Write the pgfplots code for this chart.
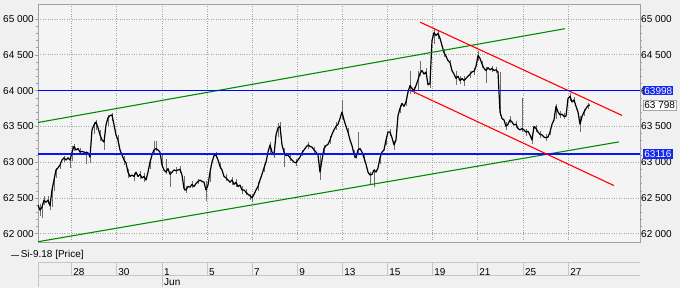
\documentclass[border=0pt]{standalone}
\usepackage{pgfplots}
\pgfplotsset{compat=1.18}
\usepackage{fontspec}
\setmainfont{Liberation Sans}
\definecolor{bg}{RGB}{240,240,240}
\definecolor{plotbg}{RGB}{244,244,244}
\definecolor{lblue}{RGB}{0,0,255}
\definecolor{lblueb}{RGB}{10,20,250}
\definecolor{lgreen}{RGB}{0,140,0}
\definecolor{lred}{RGB}{255,0,0}
\definecolor{boxblue}{RGB}{20,40,240}
\definecolor{frame}{RGB}{160,160,160}
\definecolor{wick}{RGB}{110,110,110}
\definecolor{gridc}{RGB}{165,165,165}

\pgfplotstableread{
x c
38 62400
40 62330
42 62370
44 62470
46 62440
48 62470
50 62390
52 62610
54 62750
56 62890
58 62920
60 62960
62 63030
64 63060
66 63030
68 63060
70 63030
72 63140
74 63220
76 63170
78 63190
80 63140
82 63150
84 63140
86 63130
88 63130
90 63070
92 63450
94 63520
96 63560
98 63480
100 63380
102 63310
104 63280
106 63520
108 63620
110 63650
112 63660
114 63520
116 63380
118 63310
120 63170
122 63100
124 63030
126 62990
128 62860
130 62800
132 62820
134 62800
136 62860
138 62800
140 62830
142 62780
144 62800
146 62750
148 62860
150 63000
152 63100
154 63170
156 63190
158 63170
160 63140
162 62960
164 62890
166 62860
168 62910
170 62830
172 62860
174 62890
176 62880
178 62890
180 62900
182 62820
184 62630
186 62610
188 62660
190 62650
192 62690
194 62660
196 62700
198 62730
200 62750
202 62730
204 62720
206 62610
208 62680
210 62860
212 63000
214 63090
216 63100
218 63030
220 62940
222 62890
224 62800
226 62780
228 62750
230 62720
232 62750
234 62690
236 62720
238 62660
240 62680
242 62610
244 62610
246 62580
248 62550
250 62530
252 62500
254 62550
256 62610
258 62660
260 62750
262 62830
264 62920
266 63000
268 63140
270 63240
272 63140
274 63100
276 63380
278 63480
280 63500
282 63240
284 63140
286 63090
288 63100
290 63060
292 63030
294 63000
296 62990
298 63030
300 63070
302 63130
304 63170
306 63210
308 63240
310 63220
312 63210
314 63170
316 63140
318 63100
320 62860
322 63030
324 63190
326 63230
328 63250
330 63310
332 63390
334 63450
336 63500
338 63530
340 63610
342 63700
344 63590
346 63500
348 63420
350 63310
352 63230
354 63110
356 63060
358 63170
360 63190
362 63140
364 63060
366 62970
368 62860
370 62820
372 62830
374 62890
376 62860
378 62920
380 63060
382 63140
384 63170
386 63310
388 63420
390 63420
392 63340
394 63240
396 63310
398 63650
400 63750
402 63820
404 63780
406 63840
408 63980
410 64070
412 64030
414 64000
416 64070
418 64150
420 64240
422 64280
424 64230
426 64260
428 64080
430 64100
432 64700
434 64810
436 64770
438 64800
440 64730
442 64630
444 64530
446 64480
448 64420
450 64390
452 64280
454 64230
456 64170
458 64200
460 64140
462 64170
464 64140
466 64170
468 64200
470 64230
472 64260
474 64270
476 64340
478 64490
480 64450
482 64370
484 64310
486 64280
488 64320
490 64290
492 64310
494 64280
496 64290
498 64260
500 63700
502 63610
504 63590
506 63500
508 63530
510 63590
512 63560
514 63520
516 63530
518 63470
520 63450
522 63470
524 63450
526 63420
528 63430
530 63380
532 63310
534 63500
536 63470
538 63420
540 63390
542 63380
544 63350
546 63340
548 63350
550 63420
552 63530
554 63590
556 63780
558 63700
560 63660
562 63670
564 63640
566 63640
568 63890
570 63920
572 63840
574 63870
576 63780
578 63700
580 63530
582 63640
584 63700
586 63750
588 63790
590 63798
}\price

\pgfplotstableread{
x y
40 62420
40 62250
40 nan
42 62430
42 62220
42 nan
44 62520
44 62400
44 nan
48 62520
48 62420
48 nan
50 62470
50 62330
50 nan
52 62640
52 62380
52 nan
54 62780
54 62600
54 nan
56 62920
56 62780
56 nan
60 63000
60 62900
60 nan
64 63090
64 63000
64 nan
70 63060
70 62920
70 nan
72 63230
72 63020
72 nan
74 63260
74 63150
74 nan
80 63200
80 63100
80 nan
86 63160
86 62980
86 nan
90 63100
90 62990
90 nan
94 63560
94 63400
94 nan
96 63590
96 63450
96 nan
100 63450
100 63300
100 nan
104 63320
104 63170
104 nan
108 63660
108 63500
108 nan
112 63680
112 63580
112 nan
118 63380
118 63250
118 nan
124 63090
124 62960
124 nan
128 62900
128 62780
128 nan
134 62850
134 62740
134 nan
140 62880
140 62760
140 nan
144 62850
144 62720
144 nan
150 63040
150 62900
150 nan
154 63300
154 63100
154 nan
156 63300
156 63150
156 nan
162 63100
162 62920
162 nan
166 63050
166 62840
166 nan
170 62880
170 62650
170 nan
176 62930
176 62830
176 nan
180 62940
180 62850
180 nan
184 62800
184 62600
184 nan
186 62660
186 62570
186 nan
192 62730
192 62640
192 nan
198 62770
198 62690
198 nan
206 62740
206 62450
206 nan
210 62900
210 62720
210 nan
216 63140
216 63060
216 nan
220 63000
220 62900
220 nan
226 62830
226 62740
226 nan
232 62790
232 62680
232 nan
236 62760
236 62650
236 nan
242 62660
242 62560
242 nan
246 62620
246 62540
246 nan
250 62560
250 62470
250 nan
252 62560
252 62440
252 nan
258 62720
258 62600
258 nan
264 62980
264 62860
264 nan
270 63280
270 63120
270 nan
274 63180
274 63060
274 nan
278 63540
278 63350
278 nan
280 63560
280 63460
280 nan
284 63200
284 62930
284 nan
290 63110
290 63020
290 nan
296 63040
296 62950
296 nan
302 63170
302 63090
302 nan
308 63280
308 63190
308 nan
314 63210
314 63130
314 nan
320 63100
320 62750
320 nan
324 63240
324 63100
324 nan
330 63360
330 63260
330 nan
336 63560
336 63450
336 nan
342 63865
342 63600
342 nan
348 63480
348 63380
348 nan
354 63170
354 63060
354 nan
358 63420
358 63130
358 nan
364 63110
364 63000
364 nan
370 62860
370 62700
370 nan
374 62900
374 62650
374 nan
380 63100
380 62980
380 nan
386 63360
386 63240
386 nan
390 63460
390 63360
390 nan
394 63300
394 63170
394 nan
400 63800
400 63680
400 nan
406 63890
406 63780
406 nan
410 64280
410 63950
410 nan
414 64050
414 63950
414 nan
418 64280
418 64000
418 nan
420 64420
420 64200
420 nan
426 64310
426 64200
426 nan
430 64150
430 64040
430 nan
434 64870
434 64650
434 nan
438 64850
438 64720
438 nan
444 64580
444 64470
444 nan
450 64430
450 64340
450 nan
456 64280
456 64080
456 nan
460 64200
460 64090
460 nan
464 64200
464 64060
464 nan
470 64270
470 64180
470 nan
474 64310
474 64220
474 nan
478 64560
478 64420
478 nan
482 64420
482 64320
482 nan
486 64330
486 64100
486 nan
492 64350
492 64260
492 nan
496 64330
496 64240
496 nan
500 64260
500 63650
500 nan
506 63560
506 63450
506 nan
510 63640
510 63540
510 nan
516 63580
516 63480
516 nan
522 63900
522 63420
522 nan
526 63470
526 63370
526 nan
532 63350
532 63260
532 nan
536 63520
536 63420
536 nan
540 63440
540 63340
540 nan
546 63390
546 63300
546 nan
550 63470
550 63380
550 nan
556 63810
556 63600
556 nan
560 63710
560 63610
560 nan
564 63690
564 63600
564 nan
570 63960
570 63860
570 nan
574 63910
574 63820
574 nan
580 63650
580 63420
580 nan
584 63740
584 63640
584 nan
588 63820
588 63740
588 nan
}\wicks

\pgfplotstableread{
x y
38 63998
640 63998
}\levelA

\pgfplotstableread{
x y
38 63116
640 63116
}\levelB

\begin{document}
\begin{tikzpicture}[font=\fontsize{10}{12}\selectfont]
\fill[bg] (0pt,0pt) rectangle (680pt,288pt);
% date band
\draw[gray!45, line width=1pt] (38pt,25pt) -- (640pt,25pt);
\draw[gray!45, line width=1pt] (38pt,12pt) -- (640pt,12pt);
\foreach \t in {38,71.7,116.7,162.3,207.3,252.3,297.7,342.7,387.7,432.7,477.7,523.3,568.7}{
  \draw[gray!45, line width=1pt] (\t pt,12pt) -- (\t pt,25pt);
}
\draw[gray!45, line width=1pt] (38pt,0.5pt) -- (38pt,12pt);
\draw[gray!45, line width=1pt] (162.3pt,0.5pt) -- (162.3pt,12pt);
\node[anchor=west, inner sep=0pt] at (164pt,5.5pt) {Jun};

\begin{axis}[
  at={(38pt,46pt)}, anchor=south west, scale only axis,
  width=602pt, height=238pt,
  xmin=38, xmax=640, ymin=61884, ymax=65210,
  axis background/.style={fill=plotbg},
  axis line style={frame},
  font=\fontsize{10}{12}\selectfont,
  /pgf/number format/assume math mode=true,
  scaled y ticks=false, scaled x ticks=false,
  ytick={62000,62500,63000,63500,64000,64500,65000},
  yticklabels={62 000,62 500,63 000,63 500,64 000,64 500,65 000},
  extra y ticks={62000,62500,63000,63500,64000,64500,65000},
  extra y tick labels={62 000,62 500,63 000,63 500,64 000,64 500,65 000},
  extra y tick style={yticklabel pos=right, grid=none, major tick length=0pt},
  minor y tick num=4,
  ytick pos=both,
  tick align=outside,
  major tick length=3pt, minor tick length=2pt,
  every tick/.style={frame},
  ymajorgrids, xmajorgrids,
  grid style={dotted, gridc, line width=0.6pt},
  xtick={71.7,116.7,162.3,207.3,252.3,297.7,342.7,387.7,432.7,477.7,523.3,568.7},
  xticklabels={28,30,1,5,7,9,13,15,19,21,25,27},
  xtick style={draw=none},
  xticklabel style={anchor=west, inner sep=0pt, xshift=1.5pt, yshift=-27.5pt},
  yticklabel style={inner sep=1pt},
  legend style={at={(-0.0465,-0.0546)}, anchor=west, draw=none, fill=none, inner sep=0pt,
    font=\fontsize{10}{12}\selectfont, legend cell align=left},
  legend image code/.code={\draw[gray!60!black, line width=0.6pt] (0pt,0pt) -- (8pt,0pt);},
  unbounded coords=jump,
]
\addplot[wick, line width=0.7pt, forget plot] table[x=x, y=y] {\wicks};
\addplot[black, line width=1.2pt, line join=round] table[x=x, y=c] {\price};
\addlegendentry{Si-9.18 [Price]}
\addplot[lgreen, line width=1.1pt, forget plot] coordinates {(38,63554) (565,64865)};
\addplot[lgreen, line width=1.1pt, forget plot] coordinates {(38,61888) (619,63283)};
\addplot[lblueb, line width=1.5pt, forget plot] table[x=x, y=y] {\levelB};
\addplot[lred, line width=1.1pt, forget plot] coordinates {(420,64957) (622,63653)};
\addplot[lred, line width=1.1pt, forget plot] coordinates {(411,64000) (614,62672)};
\addplot[lblue, line width=1.5pt, forget plot] table[x=x, y=y] {\levelA};
\coordinate (b1) at (axis cs:640,63998);
\coordinate (b2) at (axis cs:640,63798);
\coordinate (b3) at (axis cs:640,63116);
\end{axis}
\node[fill=white, draw=gray!70, inner sep=1.2pt, anchor=west] at ([xshift=3pt]b2) {63 798};
\node[fill=boxblue, text=white, inner sep=1.2pt, anchor=west] at ([xshift=3pt]b1) {63998};
\node[fill=boxblue, text=white, inner sep=1.2pt, anchor=west] at ([xshift=3pt]b3) {63116};
\pgfresetboundingbox
\path[use as bounding box] (0pt,0pt) rectangle (680pt,288pt);
\end{tikzpicture}
\end{document}
